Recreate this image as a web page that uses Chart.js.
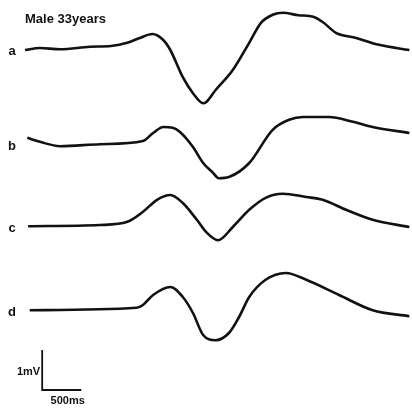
<!DOCTYPE html>
<html>
<head>
<meta charset="utf-8">
<script src="https://cdn.jsdelivr.net/npm/chart.js@4"></script>
<style>
  html, body { margin: 0; padding: 0; background: #fff; }
  #wrap { width: 412px; height: 409px; }
</style>
</head>
<body>
<div id="wrap"><canvas id="traces"></canvas></div>
<script>
// time in ms from start of trace, amplitude in mV relative to baseline
var traceLabels = ['a', 'b', 'c', 'd'];

var timeA = [0, 190, 450, 830, 1100, 1310, 1470, 1630, 1770, 1860, 2020, 2150, 2280, 2320, 2440, 2660, 2870, 3020, 3170, 3300, 3500, 3690, 3810, 3980, 4240, 4530, 4920];
var voltA = [-0.05, 0, -0.03, 0.03, 0.05, 0.13, 0.25, 0.35, 0.2, -0.05, -0.73, -1.13, -1.38, -1.35, -1.05, -0.55, 0.13, 0.63, 0.83, 0.88, 0.82, 0.78, 0.65, 0.38, 0.25, 0.08, -0.05];

var timeB = [30, 190, 450, 960, 1510, 1640, 1770, 1890, 1980, 2150, 2280, 2400, 2480, 2610, 2870, 3170, 3380, 3560, 3890, 4200, 4450, 4920];
var voltB = [0.13, 0.03, -0.08, -0.03, 0.05, 0.25, 0.4, 0.38, 0.28, -0.1, -0.5, -0.73, -0.88, -0.85, -0.5, 0.33, 0.58, 0.65, 0.65, 0.53, 0.4, 0.25];

var timeC = [40, 960, 1310, 1510, 1690, 1860, 2020, 2200, 2320, 2470, 2660, 2870, 3080, 3300, 3600, 3810, 4110, 4450, 4920];
var voltC = [-0.03, 0, 0.08, 0.33, 0.63, 0.75, 0.55, 0.13, -0.18, -0.38, -0.05, 0.38, 0.68, 0.78, 0.7, 0.63, 0.38, 0.13, -0.05];

var timeD = [60, 1430, 1510, 1640, 1860, 2020, 2150, 2280, 2440, 2610, 2740, 2870, 3080, 3340, 3600, 4020, 4450, 4920];
var voltD = [-0.03, 0.03, 0.1, 0.35, 0.55, 0.3, -0.1, -0.65, -0.78, -0.6, -0.2, 0.3, 0.73, 0.9, 0.73, 0.35, -0.03, -0.18];

// calibration bar: 1 mV, 500 ms
var barTime = [220, 220, 720];
var barVolt = [1, 0, 0];

var titleText = 'Male 33years';

// layout: canvas pixel sizes
var W = 412, H = 409;
var msPerPx = 12.8, pxPerMv = 40, startPx = 25;
var baselines = [48, 143, 225, 309, 390];

function pairs(t, v) {
    return t.map(function(x, i) { return {x: x, y: v[i]}; });
}

function yAxis(base) {
    return {
        display: false,
        min: -(H - base) / pxPerMv,
        max: base / pxPerMv
    };
}

var series = [pairs(timeA, voltA), pairs(timeB, voltB), pairs(timeC, voltC), pairs(timeD, voltD)];
var axisIds = ['ya', 'yb', 'yc', 'yd'];

var datasets = series.map(function(pts, i) {
    return {
        label: traceLabels[i],
        data: pts,
        yAxisID: axisIds[i],
        borderColor: '#111',
        borderWidth: 2.6,
        pointRadius: 0,
        cubicInterpolationMode: 'monotone',
        fill: false
    };
});
datasets.push({
    label: 'scale',
    data: pairs(barTime, barVolt),
    yAxisID: 'ys',
    borderColor: '#111',
    borderWidth: 1.8,
    pointRadius: 0,
    tension: 0,
    fill: false
});

var scales = {
    x: { type: 'linear', display: false, min: -startPx * msPerPx, max: (W - startPx) * msPerPx }
};
axisIds.forEach(function(id, i) { scales[id] = yAxis(baselines[i]); });
scales.ys = yAxis(baselines[4]);

var textPlugin = {
    id: 'texts',
    afterDraw: function(chart) {
        var ctx = chart.ctx;
        var x = chart.scales.x;
        ctx.save();
        ctx.fillStyle = '#111';
        ctx.textBaseline = 'middle';
        ctx.font = 'bold 13px "Liberation Sans", Arial, sans-serif';
        ctx.textAlign = 'left';
        ctx.fillText(titleText, x.getPixelForValue(0), 19);

        ctx.font = 'bold 13px "Liberation Sans", Arial, sans-serif';
        ctx.textAlign = 'center';
        axisIds.forEach(function(id, i) {
            var y = chart.scales[id].getPixelForValue(0);
            ctx.fillText(traceLabels[i], 12, y + 3);
        });

        var ys = chart.scales.ys;
        ctx.font = 'bold 11px "Liberation Sans", Arial, sans-serif';
        ctx.textAlign = 'right';
        ctx.fillText('1mV', x.getPixelForValue(barTime[0]) - 2, ys.getPixelForValue(0.5) + 2);
        ctx.textAlign = 'center';
        ctx.fillText('500ms', x.getPixelForValue((barTime[1] + barTime[2]) / 2) + 6, ys.getPixelForValue(0) + 11);
        ctx.restore();
    }
};

new Chart(document.getElementById('traces'), {
    type: 'line',
    data: { datasets: datasets },
    options: {
        responsive: true,
        maintainAspectRatio: false,
        animation: false,
        layout: { padding: 0 },
        plugins: { legend: { display: false }, tooltip: { enabled: false } },
        scales: scales
    },
    plugins: [textPlugin]
});
</script>
</body>
</html>
